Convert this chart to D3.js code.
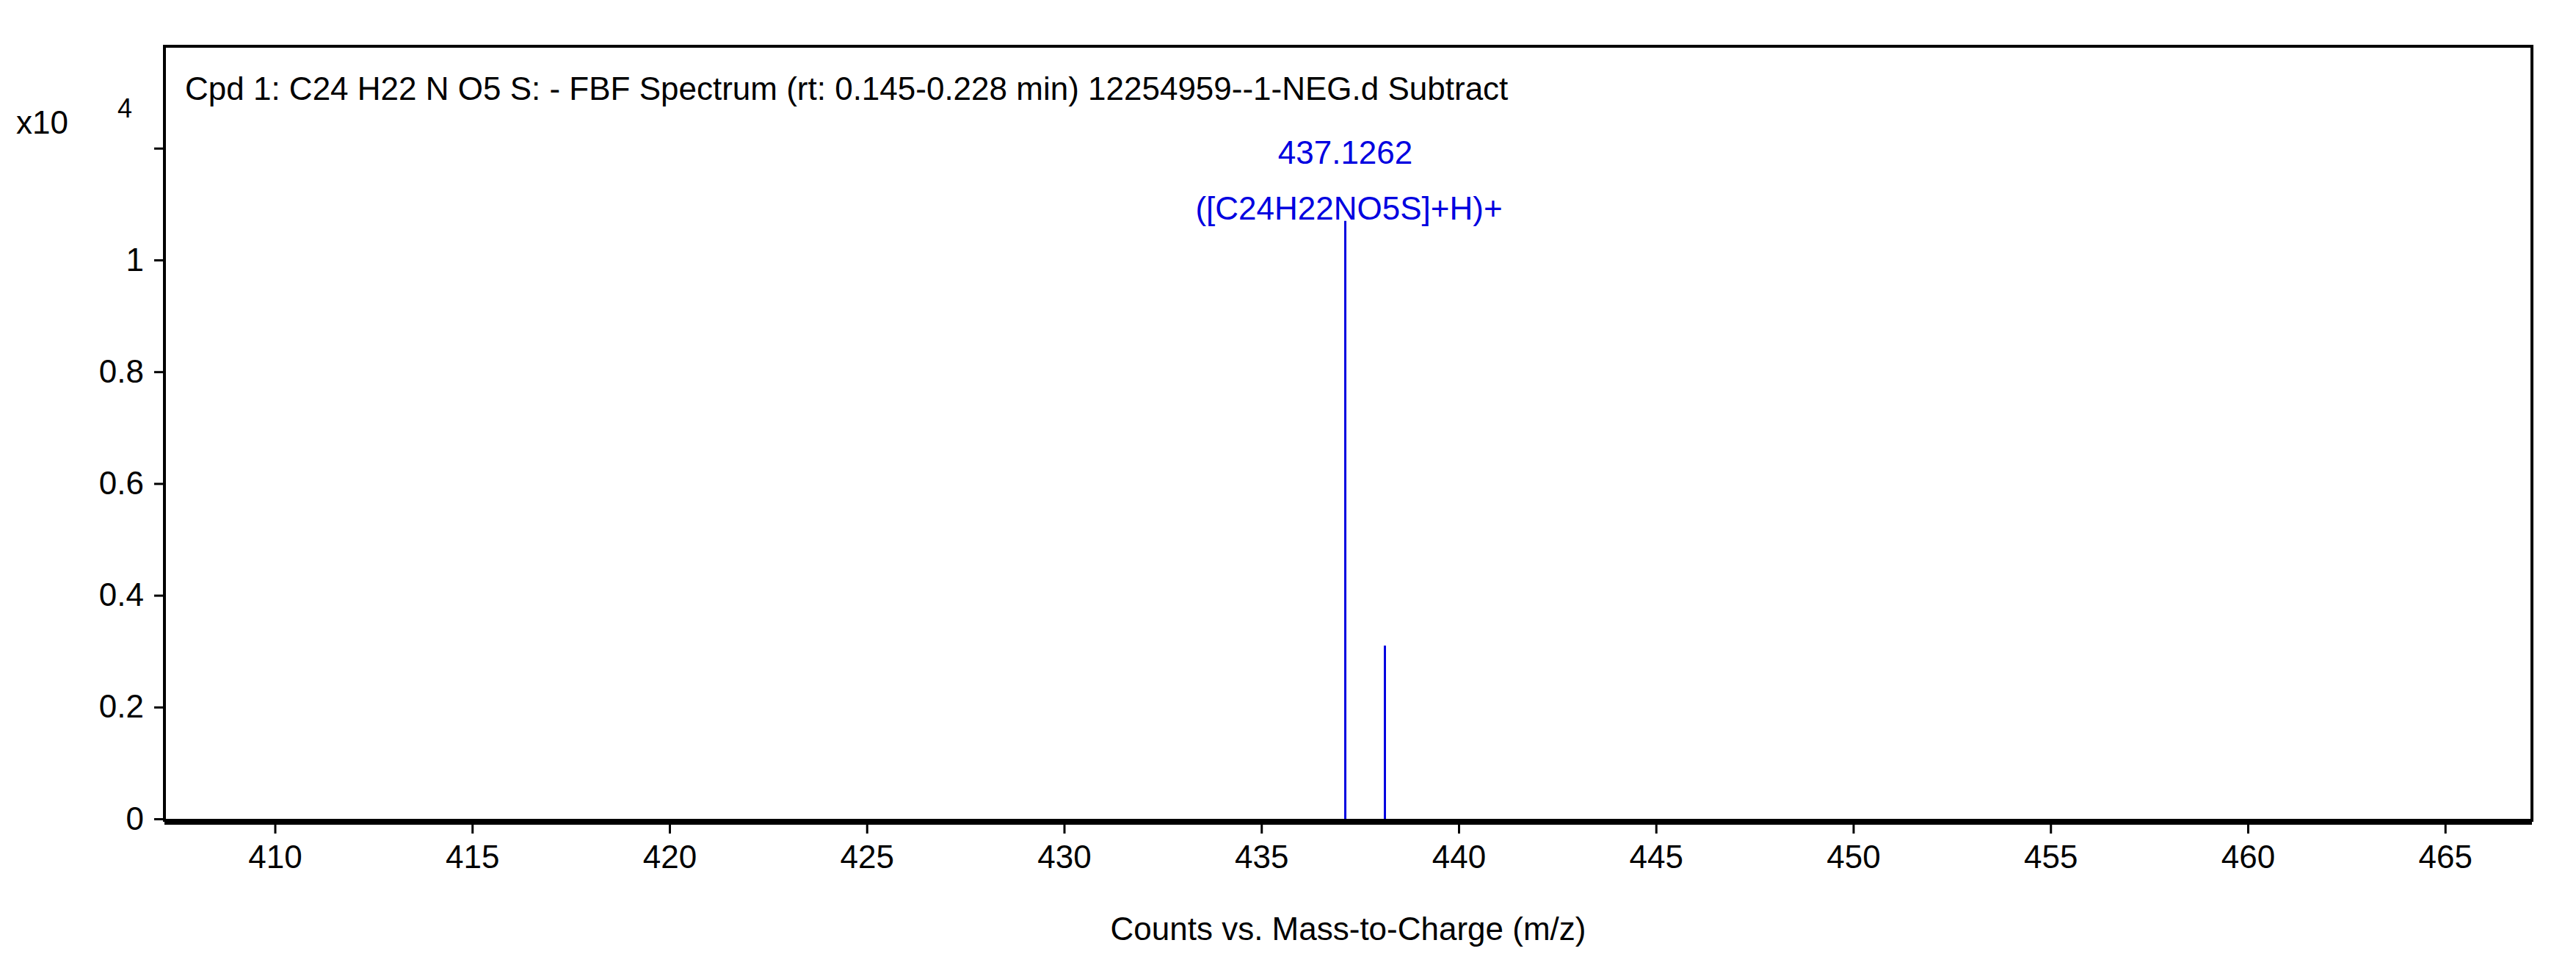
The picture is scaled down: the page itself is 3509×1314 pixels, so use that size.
<!DOCTYPE html>
<html>
<head>
<meta charset="utf-8">
<script src="https://cdn.jsdelivr.net/npm/d3@7"></script>
<style>
  body { margin: 0; background: #fff; }
  text { font-family: "Liberation Sans", Arial, sans-serif; }
</style>
</head>
<body>
<script>
// peaks
const mz = [437.1262, 438.13]
const counts = [10700, 3100]
const peakLabels = [["437.1262", "([C24H22NO5S]+H)+"], null]
const xTicks = [410, 415, 420, 425, 430, 435, 440, 445, 450, 455, 460, 465]
const yTicks = [0, 0.2, 0.4, 0.6, 0.8, 1, 1.2]
const yTickLabels = ["0", "0.2", "0.4", "0.6", "0.8", "1", ""]

const W = 3509, H = 1314
const plotL = 224, plotR = 3449, plotT = 63, plotB = 1117

const svg = d3.select("body").append("svg")
    .attr("width", W)
    .attr("height", H)

const x = d3.scaleLinear().domain([407.2, 467.2]).range([plotL, plotR])
const y = d3.scaleLinear().domain([0, 1]).range([1115, 354])

// frame
svg.append("rect")
    .attr("x", plotL).attr("y", plotT)
    .attr("width", plotR - plotL).attr("height", plotB - plotT)
    .attr("fill", "none").attr("stroke", "#000").attr("stroke-width", 4)
svg.append("line")
    .attr("x1", plotL).attr("x2", plotR)
    .attr("y1", plotB + 2).attr("y2", plotB + 2)
    .attr("stroke", "#000").attr("stroke-width", 8)

// x axis
const xAxis = svg.append("g")
    .attr("transform", `translate(0,${plotB + 6})`)
    .call(d3.axisBottom(x).tickValues(xTicks).tickSize(12).tickPadding(16))
xAxis.select(".domain").remove()
xAxis.selectAll("line").attr("stroke-width", 3)
xAxis.selectAll("text").attr("font-size", 44).attr("fill", "#000")

// y axis
const yAxis = svg.append("g")
    .attr("transform", `translate(${plotL - 2},0)`)
    .call(d3.axisLeft(y).tickValues(yTicks).tickSize(12).tickPadding(14)
        .tickFormat((d, i) => yTickLabels[i]))
yAxis.select(".domain").remove()
yAxis.selectAll("line").attr("stroke-width", 3)
yAxis.selectAll("text").attr("font-size", 44).attr("fill", "#000")

svg.append("text").attr("x", 22).attr("y", 182)
    .attr("font-size", 44).text("x10")
svg.append("text").attr("x", 160).attr("y", 160)
    .attr("font-size", 36).text("4")

// title
svg.append("text").attr("x", 252).attr("y", 136)
    .attr("font-size", 44)
    .text("Cpd 1: C24 H22 N O5 S: - FBF Spectrum (rt: 0.145-0.228 min) 12254959--1-NEG.d  Subtract")

svg.append("text").attr("x", (plotL + plotR) / 2).attr("y", 1280)
    .attr("text-anchor", "middle").attr("font-size", 44)
    .text("Counts vs. Mass-to-Charge (m/z)")

// peaks
const peaks = mz.map((m, i) => ({ m, c: counts[i] / 1e4, lab: peakLabels[i] }))
svg.selectAll("line.peak").data(peaks).enter().append("line")
    .attr("class", "peak")
    .attr("x1", d => x(d.m)).attr("x2", d => x(d.m))
    .attr("y1", y(0)).attr("y2", d => y(d.c))
    .attr("stroke", "#0000e0").attr("stroke-width", 3)

peaks.filter(d => d.lab).forEach(d => {
    svg.append("text").attr("x", x(d.m)).attr("y", y(d.c) - 78)
        .attr("text-anchor", "middle").attr("font-size", 44).attr("fill", "#0000e0")
        .text(d.lab[0])
    svg.append("text").attr("x", x(d.m) + 5).attr("y", y(d.c) - 2)
        .attr("text-anchor", "middle").attr("font-size", 44).attr("fill", "#0000e0")
        .text(d.lab[1])
})
</script>
</body>
</html>
